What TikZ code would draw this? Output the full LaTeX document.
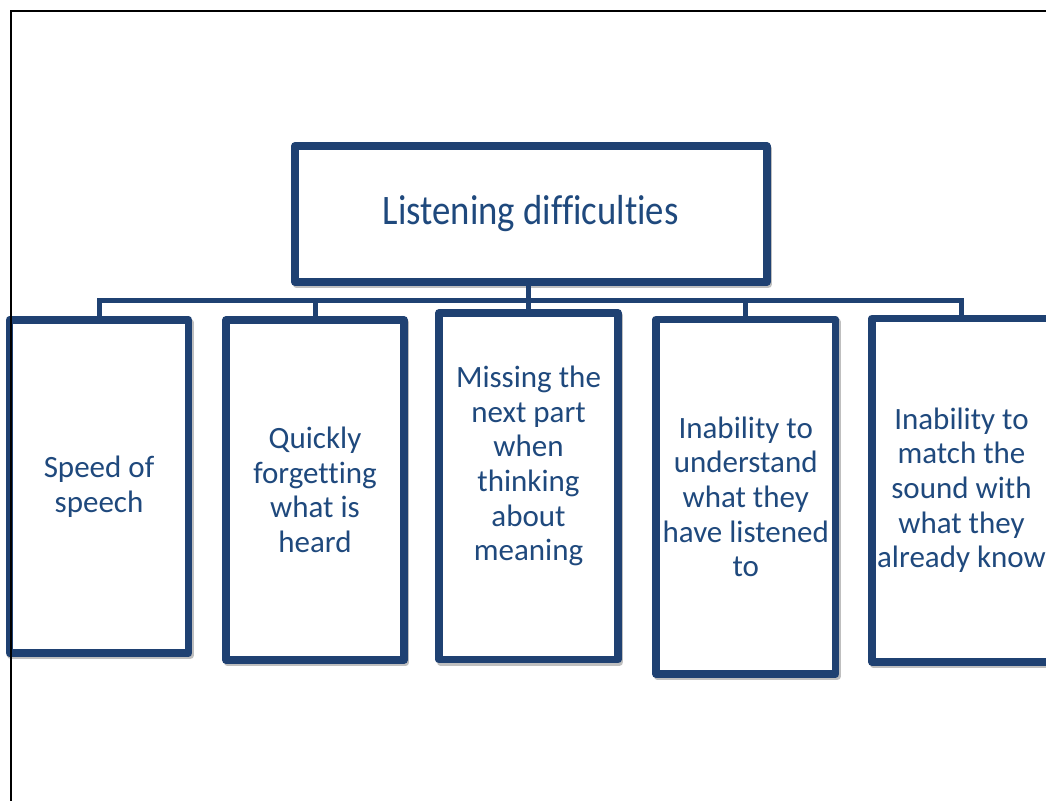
\documentclass[tikz,border=0pt]{standalone}
\usepackage{fontspec}
\usepackage{graphicx}
\setmainfont{Carlito}[Ligatures=NoCommon, RawFeature={-liga;-dlig;-clig}]
\usetikzlibrary{shadows}
\definecolor{boxblue}{HTML}{1F4172}
\definecolor{txtblue}{HTML}{1F497D}
\begin{document}
\begin{tikzpicture}[x=1pt,y=-1pt,
  box/.style={draw=boxblue, line width=7.5pt, fill=white, rectangle, inner sep=0pt, outer sep=0pt,
    line join=round, text=txtblue, align=center, font=\fontsize{31}{34.6}\selectfont,
    drop shadow={shadow xshift=1.5pt, shadow yshift=-2.5pt, opacity=0.25, draw=black, line width=7.5pt}},
  lbl/.style={text=txtblue, align=center, font=\fontsize{31}{34.6}\selectfont, inner sep=0pt},
  link/.style={draw=boxblue, line width=5pt}]
\useasboundingbox (0,0) rectangle (1046,801);
\fill[white] (0,0) rectangle (1046,801);

\node[box, line width=8pt, minimum width=471.5pt, minimum height=136pt,
  font=\fontsize{42}{46}\selectfont] (top) at (530.75,214) {\scalebox{0.875}[1]{Listening dif\kern0ptf\kern0pticulties}};

\node[box, minimum width=179pt, minimum height=333pt] (b1) at (99,486.5) {Speed of\\speech};
\node[box, minimum width=178pt, minimum height=340pt] (b2) at (315,490) {Quickly\\forgetting\\what is\\heard};
\node[box, minimum width=179pt, minimum height=346.5pt] (b3) at (528.5,486.25) {};
\node[lbl] (t3) at (528.5,466) {Missing the\\next part\\when\\thinking\\about\\meaning};
\node[box, minimum width=179.5pt, minimum height=354.5pt] (b4) at (745.75,496.75) {Inability to\\understand\\what they\\have listened\\to};
\node[box, minimum width=179pt, minimum height=343.5pt] (b5) at (961.5,490.25) {Inability to\\match the\\sound with\\what they\\already know};

\coordinate (bus) at (0,300);
\draw[link] (b1.north) -- (b1.north |- bus) -- (b5.north |- bus) -- (b5.north);
\draw[link] (b2.north) -- (b2.north |- bus);
\draw[link] (b4.north) -- (b4.north |- bus);
\draw[link] (top.south -| b3.north) -- (b3.north);

\draw[black, line width=2pt] (1046,11) -- (10.7,11) -- (10.7,801);
\end{tikzpicture}
\end{document}
